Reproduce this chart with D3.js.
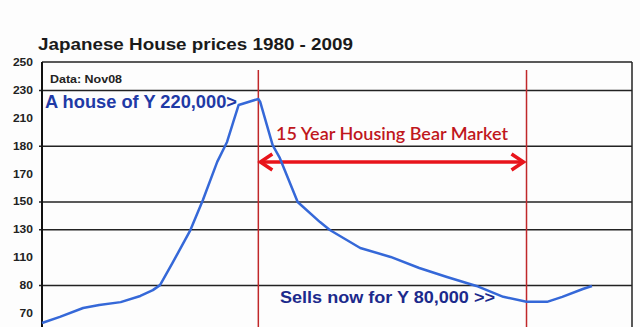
<!DOCTYPE html>
<html>
<script src="https://cdnjs.cloudflare.com/ajax/libs/d3/7.8.5/d3.min.js"></script>
<style>
body { margin:0; background:#fff; }
</style>
<body>
<div id="chart"></div>
<script>

// price series (years are fractional where the curve bends)
var years = [1978.9, 1979.9, 1981.2, 1982.1, 1983.3, 1984.4, 1985.1, 1985.5, 1986.2, 1987.2, 1987.9,
             1988.7, 1989.25, 1989.6, 1989.9, 1991.0, 1991.1, 1991.8, 1992.2, 1992.7, 1993.2, 1994.45,
             1995.0, 1996.7, 1998.4, 2000.0, 2001.55, 2003.2, 2004.7, 2006.0, 2007.15, 2008.0, 2009.15, 2009.66];
var prices = [66.4, 68.6, 71.8, 72.9, 73.9, 76.1, 78.2, 80, 103.8, 129.5, 151,
              174.2, 184, 205.5, 219.2, 223.5, 221.6, 180.5, 175.6, 165.4, 149.6, 135.2,
              129.5, 116.6, 110.2, 98.4, 88.7, 79.7, 75.8, 74.0, 74.0, 75.8, 78.6, 79.7];

var tickLabels = [70, 80, 110, 130, 150, 170, 180, 210, 230, 250];
var gridValues = [80, 130, 150, 180, 230];
var bearStart = 1991, bearEnd = 2006;

var title = "Japanese House prices 1980 - 2009";
var dataNote = "Data: Nov08";
var peakNote = "A house of Y 220,000>";
var nowNote = "Sells now for Y 80,000 >>";
var bearNote = "15 Year Housing Bear Market";

var width = 640, height = 327;
var pLeft = 42, pRight = 632, pTop = 62, pBottom = 313;

var svg = d3.select("#chart").append("svg")
    .attr("width", width).attr("height", height)
    .style("display", "block")
    .style("font-family", "Arial, 'Liberation Sans', sans-serif");

svg.append("rect").attr("width", width).attr("height", height).attr("fill", "#fdfdfd");

var x = d3.scaleLinear().domain([1978.9, 2011.9]).range([pLeft, pRight]);
// uneven labels sit at even spacing -> polylinear scale
var y = d3.scaleLinear()
    .domain(tickLabels)
    .range(tickLabels.map(function(d, i) { return pBottom - i * (pBottom - pTop) / (tickLabels.length - 1); }));

// gridlines
var grid = svg.append("g").attr("transform", "translate(" + (pLeft - 3) + ",0)")
    .call(d3.axisLeft(y).tickValues(gridValues).tickSize(-(pRight - pLeft + 3)).tickFormat(""));
grid.select(".domain").remove();
grid.selectAll(".tick line").attr("stroke", "#222").attr("stroke-width", 1.5);

// tick labels
var ax = svg.append("g").attr("transform", "translate(" + (pLeft - 9) + ",0)")
    .call(d3.axisLeft(y).tickValues(tickLabels).tickSize(0).tickPadding(0));
ax.select(".domain").remove();
ax.selectAll("text").attr("font-size", 11).attr("font-weight", "bold").attr("fill", "#222")
    .attr("font-family", "Arial, 'Liberation Sans', sans-serif")
    .attr("textLength", function(d) { return String(d).length * 6.7; })
    .attr("lengthAdjust", "spacingAndGlyphs");

// frame
svg.append("line").attr("x1", pLeft).attr("x2", pRight).attr("y1", pTop).attr("y2", pTop)
    .attr("stroke", "#222").attr("stroke-width", 1.5);
svg.append("line").attr("x1", pRight).attr("x2", pRight).attr("y1", pTop).attr("y2", height)
    .attr("stroke", "#222").attr("stroke-width", 1.5);
svg.append("line").attr("x1", pLeft).attr("x2", pLeft).attr("y1", pTop).attr("y2", height)
    .attr("stroke", "#111").attr("stroke-width", 2);

// bear market markers
[bearStart, bearEnd].forEach(function(yr) {
    svg.append("line").attr("x1", x(yr)).attr("x2", x(yr)).attr("y1", 70).attr("y2", height)
        .attr("stroke", "#c0282a").attr("stroke-width", 1.5);
});

var ay = 162;
svg.append("line").attr("x1", x(bearStart) + 2).attr("x2", x(bearEnd) - 3).attr("y1", ay).attr("y2", ay)
    .attr("stroke", "#e8141b").attr("stroke-width", 3.5);
svg.append("path")
    .attr("d", "M" + (x(bearStart) + 14) + "," + (ay - 8) + "L" + (x(bearStart) + 2) + "," + ay + "L" + (x(bearStart) + 14) + "," + (ay + 8))
    .attr("fill", "none").attr("stroke", "#e8141b").attr("stroke-width", 3.5);
svg.append("path")
    .attr("d", "M" + (x(bearEnd) - 15) + "," + (ay - 8) + "L" + (x(bearEnd) - 3) + "," + ay + "L" + (x(bearEnd) - 15) + "," + (ay + 8))
    .attr("fill", "none").attr("stroke", "#e8141b").attr("stroke-width", 3.5);

// price line
var line = d3.line().x(function(d, i) { return x(years[i]); }).y(function(d) { return y(d); });
svg.append("path").datum(prices)
    .attr("d", line)
    .attr("fill", "none").attr("stroke", "#3568d8").attr("stroke-width", 2.5)
    .attr("stroke-linejoin", "round");

// texts
svg.append("text").attr("x", 38).attr("y", 50).text(title)
    .attr("font-size", 17).attr("font-weight", "bold").attr("fill", "#1a1a1a")
    .attr("textLength", 315).attr("lengthAdjust", "spacingAndGlyphs");
svg.append("text").attr("x", 50).attr("y", 83).text(dataNote)
    .attr("font-size", 10).attr("font-weight", "bold").attr("fill", "#222")
    .attr("textLength", 72).attr("lengthAdjust", "spacingAndGlyphs");
svg.append("text").attr("x", 45).attr("y", 108).text(peakNote)
    .attr("font-size", 18).attr("font-weight", "bold").attr("fill", "#1f3aa6")
    .attr("textLength", 192).attr("lengthAdjust", "spacingAndGlyphs");
svg.append("text").attr("x", 280).attr("y", 303).text(nowNote)
    .attr("font-size", 16).attr("font-weight", "bold").attr("fill", "#1c2a8c")
    .attr("textLength", 215).attr("lengthAdjust", "spacingAndGlyphs");
svg.append("text").attr("x", 276).attr("y", 140).text(bearNote)
    .attr("font-size", 17).attr("font-weight", 600).attr("fill", "#c0171c")
    .attr("font-family", "Lato, 'Open Sans', sans-serif")
    .attr("textLength", 232).attr("lengthAdjust", "spacingAndGlyphs");

</script>
</body>
</html>
